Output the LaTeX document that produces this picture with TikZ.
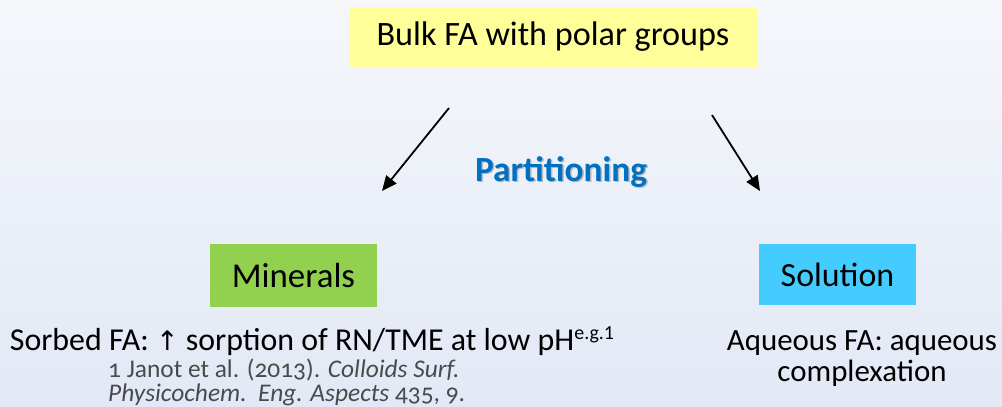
\documentclass[tikz,border=0pt]{standalone}
\usepackage{fontspec}
\setmainfont{Carlito}
\newfontfamily\reffont[Numbers=OldStyle]{Carlito}
\newfontfamily\arrowfont{DejaVu Sans}
\usetikzlibrary{arrows.meta}
\definecolor{bgtop}{HTML}{F5F7FB}
\definecolor{bgbot}{HTML}{E2E8F5}
\definecolor{bulkfill}{HTML}{FFFF99}
\definecolor{minfill}{HTML}{92D050}
\definecolor{solfill}{HTML}{45CCFF}
\definecolor{partblue}{HTML}{0070C0}
\definecolor{refgray}{HTML}{4A4A4A}
\definecolor{shadowgray}{HTML}{B8BCC6}
\tikzset{
  box/.style={inner sep=0pt, text=black},
  flow/.style={line width=1.8bp, -{Triangle[length=15bp,width=13bp]}},
  body/.style={inner sep=0pt, anchor=base, font=\fontsize{31}{34}\selectfont},
  ref/.style={inner sep=0pt, anchor=base west, text=refgray, font=\reffont\fontsize{25.5}{28}\selectfont},
  partfont/.style={inner sep=0pt, anchor=base, font=\bfseries\fontsize{35.5}{38}\selectfont},
}
\begin{document}
\begin{tikzpicture}[x=1bp,y=-1bp]
  % background
  \shade[top color=bgtop, bottom color=bgbot] (0,0) rectangle (1002,406);
  \useasboundingbox (0,0) rectangle (1002,406);

  % boxes
  \node[box, fill=bulkfill, minimum width=408bp, minimum height=60bp, font=\fontsize{34.3}{36}\selectfont] (bulk) at (553,37) {Bulk FA with polar groups};
  \node[box, fill=minfill, minimum width=167bp, minimum height=63bp, font=\fontsize{35}{36}\selectfont] (minerals) at (293.5,275.5) {Minerals};
  \node[box, fill=solfill, minimum width=157bp, minimum height=61bp, font=\fontsize{34}{36}\selectfont] (solution) at (837.5,274.5) {Solution};

  % partitioning label with soft shadow
  \node[partfont, text=shadowgray] (partshadow) at (562.5,182.5) {Partitioning};
  \node[partfont, text=partblue] (part) at (561,181) {Partitioning};

  % arrows
  \coordinate (lstart) at (449,108);
  \coordinate (lend) at (382,191);
  \coordinate (rstart) at (712,115);
  \coordinate (rend) at (760,191);
  \draw[flow] (lstart) -- (lend);
  \draw[flow] (rstart) -- (rend);

  % mineral side text
  \node[body, font=\fontsize{32}{34}\selectfont] (sorbed) at (312,350) {Sorbed FA: {\arrowfont\fontsize{27}{30}\selectfont ↑} sorption of RN/TME at low pH\raisebox{0.32em}{\fontsize{20}{22}\selectfont e.g.1}};
  \node[ref] (ref1) at (108,377) {1 Janot et al. (2013). \textit{Colloids Surf.}};
  \node[ref] (ref2) at (108,401) {\textit{Physicochem.\ \ Eng. Aspects} 435, 9.};

  % solution side text
  \node[body] (aq1) at (862,350) {Aqueous FA: aqueous};
  \node[body] (aq2) at (862,381) {complexation};
\end{tikzpicture}
\end{document}
